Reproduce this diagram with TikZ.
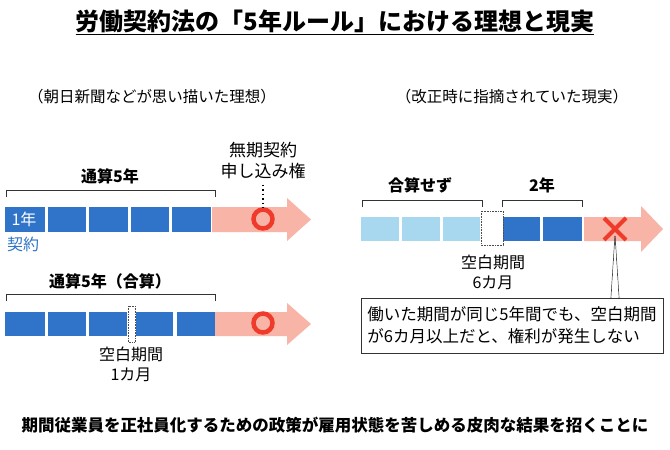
\documentclass[tikz,border=0pt]{standalone}
\usepackage{fontspec}
\setmainfont{Noto Sans CJK JP}
\usetikzlibrary{shapes.arrows}
\definecolor{dblue}{HTML}{2F74C8}
\definecolor{lblue}{HTML}{A8D8F0}
\definecolor{salmon}{HTML}{F8B4A6}
\definecolor{cred}{HTML}{EE3B2B}
\begin{document}
\begin{tikzpicture}[x=1pt,y=-1pt,
  blk/.style={fill=dblue,draw=none},
  lblk/.style={fill=lblue,draw=none},
  arr/.style={fill=salmon,draw=none},
  gapbox/.style={draw=black!70,densely dotted,line width=0.6pt},
  brk/.style={draw=black!80,line width=0.6pt},
  lbl/.style={font=\fontsize{16}{18}\selectfont\bfseries,inner sep=0pt},
  txt/.style={font=\fontsize{16}{20}\selectfont,inner sep=0pt,align=center},
  ring/.style={circle,draw=cred,line width=4.5pt,minimum size=19pt,inner sep=0pt}]
\useasboundingbox (0,0) rectangle (670,450);
\fill[white] (0,0) rectangle (670,450);
\node[font=\fontsize{24}{26}\selectfont\bfseries,inner sep=0pt] (title) at (335,22) {\underline{労働契約法の「5年ルール」における理想と現実}};
\node[font=\fontsize{15.5}{18}\selectfont,inner sep=0pt] (s1) at (152,97) {（朝日新聞などが思い描いた理想）};
\node[font=\fontsize{15.5}{18}\selectfont,inner sep=0pt] (s2) at (512,97) {（改正時に指摘されていた現実）};
% row 1
\fill[arr] (212,207) -- (287,207) -- (287,198) -- (311,219.5) -- (287,241) -- (287,232) -- (212,232) -- cycle;
\fill[blk] (5,207) rectangle (45,232);
\fill[blk] (48,207) rectangle (86,232);
\fill[blk] (89,207) rectangle (128,232);
\fill[blk] (131,207) rectangle (169,232);
\fill[blk] (172,207) rectangle (211,232);
\node[font=\fontsize{16}{18}\selectfont,text=white,inner sep=0pt] (y1) at (24,219.5) {1年};
\node[font=\fontsize{16}{18}\selectfont,text=dblue,inner sep=0pt] (k1) at (23,244) {契約};
\draw[brk] (6,197) -- (6,190) -- (215,190) -- (215,197);
\node[lbl] (t1) at (110,176) {通算5年};
\node[ring] (c1) at (263,219) {};
\node[font=\fontsize{17}{21}\selectfont,inner sep=0pt,align=center] (mk) at (263,161) {無期契約\\申し込み権};
\draw[black,line width=1.5pt,dash pattern=on 1.5pt off 3pt] (mk.south) ++(0,5) -- (c1.north);
% row 2
\fill[arr] (215,312) -- (287,312) -- (287,303) -- (311,324) -- (287,345) -- (287,336) -- (215,336) -- cycle;
\fill[blk] (5,312) rectangle (45,336);
\fill[blk] (48,312) rectangle (86,336);
\fill[blk] (89,312) rectangle (127,336);
\fill[blk] (136,312) rectangle (173,336);
\fill[blk] (177,312) rectangle (215,336);
\draw[gapbox] (128,306) rectangle (135,342);
\draw[brk] (6,301) -- (6,294) -- (215,294) -- (215,301);
\node[lbl] (t2) at (110,281) {通算5年（合算）};
\node[ring] (c2) at (263,323) {};
\node[txt] (g1) at (131,364) {空白期間\\1カ月};
% right
\fill[arr] (584,217) -- (641,217) -- (641,206) -- (663,229) -- (641,252) -- (641,241) -- (584,241) -- cycle;
\fill[lblk] (361,217) rectangle (399,241);
\fill[lblk] (402,217) rectangle (440,241);
\fill[lblk] (443,217) rectangle (480,241);
\fill[blk] (503,217) rectangle (540,241);
\fill[blk] (543,217) rectangle (582,241);
\draw[gapbox] (481,211) rectangle (503,245);
\draw[brk] (362,207) -- (362,200) -- (482,200) -- (482,207);
\draw[brk] (502,207) -- (502,200) -- (582,200) -- (582,207);
\node[lbl] (t3) at (420,185) {合算せず};
\node[lbl] (t4) at (542,185) {2年};
\coordinate (x) at (615,229);
\draw[cred,line width=4pt] (604,218) -- (626,240) (604,240) -- (626,218);
\node[txt] (g2) at (493,272) {空白期間\\6カ月};
\node[draw=black!80,line width=0.7pt,fill=white,minimum width=302pt,minimum height=55pt,align=left,inner sep=4pt,font=\fontsize{16.5}{22}\selectfont] (box) at (512,325.5) {働いた期間が同じ5年間でも、空白期間\\が6カ月以上だと、権利が発生しない};
\coordinate (xp) at (615,236);
\draw[black!80,line width=0.7pt] (xp) -- (611,298);
\draw[black!80,line width=0.7pt] (xp) -- (619,298);
\fill[white] (611.4,297) -- (618.6,297) -- (615,242) -- cycle;
\node[font=\fontsize{16.5}{18}\selectfont\bfseries,inner sep=0pt] (bot) at (335,425) {期間従業員を正社員化するための政策が雇用状態を苦しめる皮肉な結果を招くことに};
\end{tikzpicture}
\end{document}
